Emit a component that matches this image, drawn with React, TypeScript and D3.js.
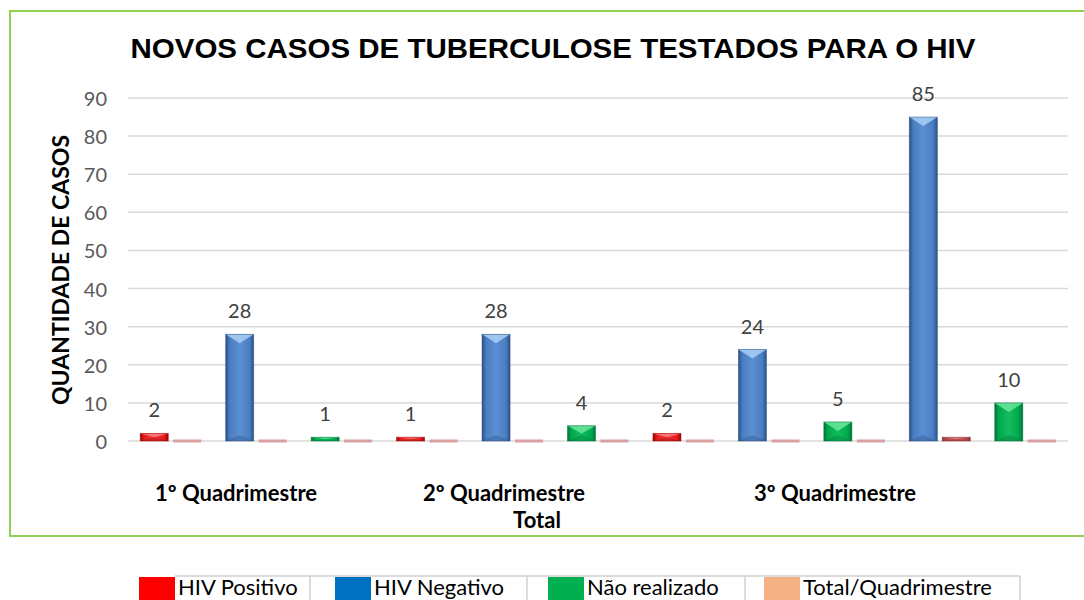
import React from 'react';
import * as d3 from 'd3';

// ---- data ----
const categories = ['1Q-Pos', '1Q-Neg', '1Q-NR', '2Q-Pos', '2Q-Neg', '2Q-NR', '3Q-Pos', '3Q-Neg', '3Q-NR', 'T-Neg', 'T-NR'];
const statusByCategory = ['pos', 'neg', 'nr', 'pos', 'neg', 'nr', 'pos', 'neg', 'nr', 'neg', 'nr'];
const resultValues = [2, 28, 1, 1, 28, 4, 2, 24, 5, 85, 10];
const totalValues = [0, 0, 0, 0, 0, 0, 0, 0, 0, 1, 0];
const yTicks = [0, 10, 20, 30, 40, 50, 60, 70, 80, 90];
const groupLabels = ['1º Quadrimestre', '2º Quadrimestre', '3º Quadrimestre', 'Total'];
const legendLabels = ['HIV Positivo', 'HIV Negativo', 'Não realizado', 'Total/Quadrimestre'];
const legendColors = ['#ff0000', '#0070c0', '#00b050', '#f4b183'];
const seriesKeys = ['result', 'total'];

const palette: Record<string, { base: string; mid: string; light: string; dark: string }> = {
  pos: { base: '#e31b1b', mid: '#f03a3a', light: '#ff8080', dark: '#a00000' },
  neg: { base: '#4a7cc0', mid: '#5b8fd3', light: '#a8d0f5', dark: '#2a4f85' },
  nr: { base: '#00a84c', mid: '#13bd5e', light: '#6ae89c', dark: '#00733a' },
  total: { base: '#b84a48', mid: '#c85a58', light: '#e09090', dark: '#8a3030' },
};

const FONT = 'Lato, "Open Sans", sans-serif';

function BevelBar({ x, y, w, h, k }: { x: number; y: number; w: number; h: number; k: string }) {
  const p = palette[k];
  const topH = Math.min(9, h / 2);
  const botH = Math.min(6, h / 2);
  return (
    <g>
      <rect x={x} y={y} width={w} height={h} fill={`url(#grad-${k})`} />
      <polygon points={`${x},${y} ${x + w},${y} ${x + w / 2},${y + topH}`} fill={p.light} opacity={0.85} />
      <polygon points={`${x},${y + h} ${x + w},${y + h} ${x + w / 2},${y + h - botH}`} fill={p.dark} opacity={0.35} />
      <rect x={x} y={y} width={w} height={h} fill="none" stroke={p.dark} strokeWidth={0.8} opacity={0.6} />
    </g>
  );
}

export default function App() {
  const W = 1084;
  const H = 600;
  const left = 128;
  const right = 1068;
  const y = d3.scaleLinear().domain([0, 90]).range([441, 98]);
  const x0 = d3.scaleBand<string>().domain(categories).range([left, right]).paddingInner(0).paddingOuter(0);
  const x1 = d3.scaleBand<string>().domain(seriesKeys).range([0, x0.bandwidth()]).paddingInner(0.15).paddingOuter(0.37);
  const bw = x1.bandwidth();

  // group label positions (layout)
  const groupPos = [
    { x: 236, y: 492 },
    { x: 504, y: 492 },
    { x: 835, y: 492 },
    { x: 537, y: 519 },
  ];

  const legendItems = [
    { sq: 139, tx: 178, div: 310 },
    { sq: 335, tx: 374, div: 527 },
    { sq: 548, tx: 587, div: 745 },
    { sq: 764, tx: 803, div: 1020 },
  ];

  return (
    <svg width={W} height={H} style={{ position: 'absolute', left: 0, top: 0, background: '#fff' }}>
      <defs>
        {Object.keys(palette).map((k) => {
          const p = palette[k];
          return (
            <linearGradient key={k} id={`grad-${k}`} x1="0" x2="1" y1="0" y2="0">
              <stop offset="0%" stopColor={p.dark} />
              <stop offset="14%" stopColor={p.base} />
              <stop offset="50%" stopColor={p.mid} />
              <stop offset="86%" stopColor={p.base} />
              <stop offset="100%" stopColor={p.dark} />
            </linearGradient>
          );
        })}
      </defs>
      <rect x={0} y={0} width={W} height={H} fill="#fff" />
      {/* frame */}
      <path d={`M${W + 5},11 L10,11 L10,536 L${W + 5},536`} fill="none" stroke="#92d050" strokeWidth={2} />

      {/* title */}
      <text x={553} y={48} textAnchor="middle" dominantBaseline="central" fontFamily='"Liberation Sans", Arial, sans-serif'
        fontWeight="bold" fontSize={28} fill="#000" textLength={845} lengthAdjust="spacingAndGlyphs">
        NOVOS CASOS DE TUBERCULOSE TESTADOS PARA O HIV
      </text>

      {/* grid + y ticks */}
      {yTicks.map((t) => (
        <g key={t}>
          <line x1={left} x2={right} y1={y(t)} y2={y(t)} stroke="#d9d9d9" strokeWidth={1.5} />
          <text x={107} y={y(t)} textAnchor="end" dominantBaseline="central" fontFamily={FONT} fontSize={20} fill="#595959">
            {t}
          </text>
        </g>
      ))}

      {/* y title */}
      <text transform={`translate(60,270) rotate(-90)`} textAnchor="middle" dominantBaseline="central" fontFamily={FONT}
        fontWeight="bold" fontSize={23} fill="#000">
        QUANTIDADE DE CASOS
      </text>

      {/* bars */}
      {categories.map((c, i) => {
        const bx0 = (x0(c) as number) + (x1('result') as number);
        const bx1 = (x0(c) as number) + (x1('total') as number);
        const v = resultValues[i];
        const tv = totalValues[i];
        const k = statusByCategory[i];
        return (
          <g key={c}>
            <BevelBar x={bx0} y={y(v)} w={bw} h={y(0) - y(v)} k={k} />
            {tv > 0 ? (
              <BevelBar x={bx1} y={y(tv)} w={bw} h={y(0) - y(tv)} k="total" />
            ) : (
              <rect x={bx1} y={y(0) - 1.5} width={bw} height={3} fill="#d8a0a0" />
            )}
            <text x={bx0 + bw / 2} y={y(v) - 24} textAnchor="middle" dominantBaseline="central" fontFamily={FONT}
              fontSize={20} fill="#404040">
              {v}
            </text>
          </g>
        );
      })}

      {/* group labels */}
      {groupLabels.map((g, i) => (
        <text key={g} x={groupPos[i].x} y={groupPos[i].y} textAnchor="middle" dominantBaseline="central" fontFamily={FONT}
          fontWeight="bold" fontSize={22} fill="#000">
          {g}
        </text>
      ))}

      {/* legend */}
      <line x1={175} x2={1020} y1={576} y2={576} stroke="#d0d0d0" strokeWidth={1.5} />
      {legendLabels.map((l, i) => (
        <g key={l}>
          <rect x={legendItems[i].sq} y={577} width={36} height={24} fill={legendColors[i]} />
          <line x1={legendItems[i].div} x2={legendItems[i].div} y1={576} y2={600} stroke="#d0d0d0" strokeWidth={1.5} />
          <text x={legendItems[i].tx} y={586} dominantBaseline="central" fontFamily={FONT} fontSize={22} fill="#000">
            {l}
          </text>
        </g>
      ))}
    </svg>
  );
}
